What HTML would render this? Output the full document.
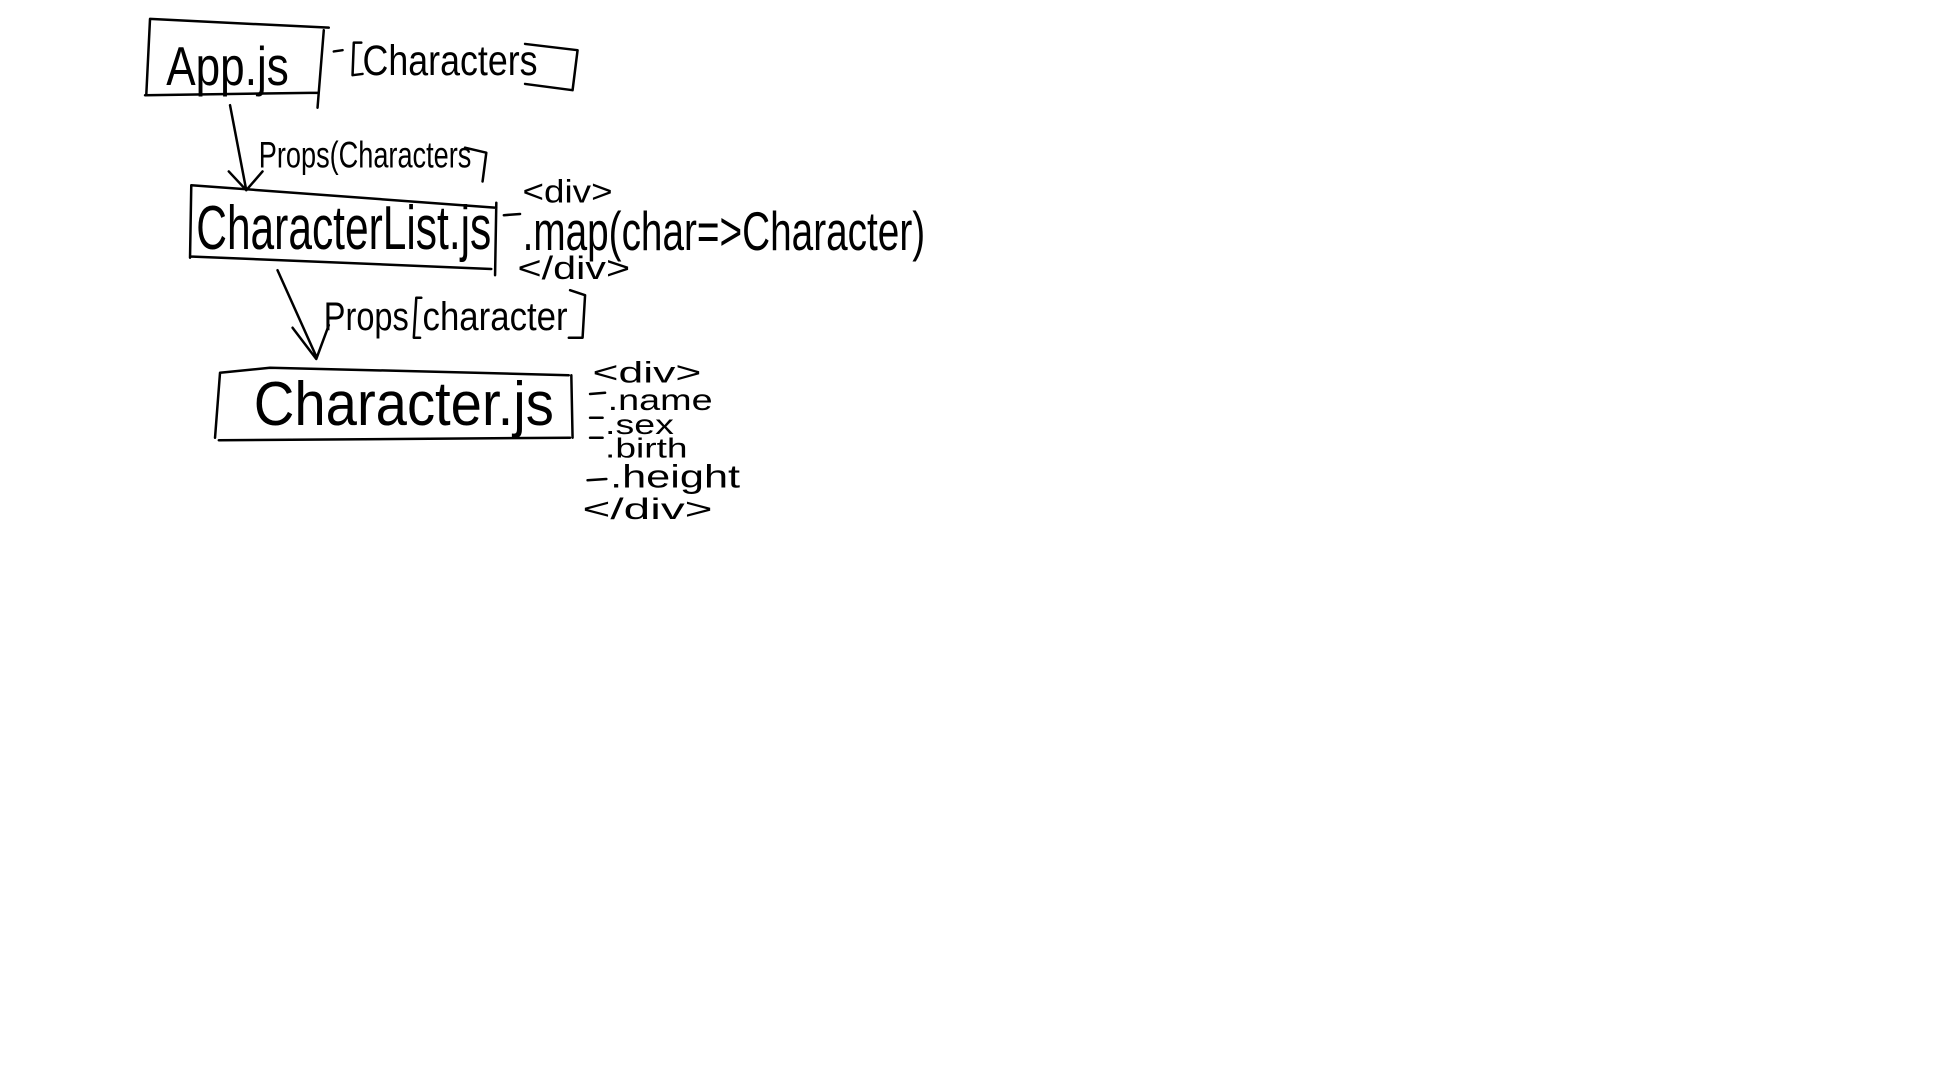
<!DOCTYPE html>
<html><head><meta charset="utf-8"><style>
html,body{margin:0;padding:0;background:#fff;width:1944px;height:1068px;overflow:hidden}
svg{display:block}
text{font-family:"Liberation Sans Narrow","Liberation Sans",sans-serif;fill:#000}
</style></head><body>
<svg width="1944" height="1068" viewBox="0 0 1555 854" xmlns="http://www.w3.org/2000/svg">
<g fill="none" stroke="#000" stroke-width="2" stroke-linecap="round" stroke-linejoin="round">
<path d="M120,15 L263,22 M259,24 L254,86 M116,76 L255,74 M120,15 L117,76"/>
<path d="M267,41 L274,40 M289,34 L283,34 L282,60 L290,59 M420,35 L462,40 L458,72 L420,67"/>
<path d="M184,84 L197,152 M183,137 L197,152 L210,137"/>
<path d="M372,118 L389,122 L386,145"/>
<path d="M153,148 L397,166 M397,162 L396,220 M152,205 L393,215 M153,148 L152,206"/>
<path d="M403,172 L416,171"/>
<path d="M222,216 L253,285 M234,262 L253,287 L263,260"/>
<path d="M456,232 L468,236 L466,270 L455,270 M337,238 L333,238 L331,270 L336,270"/>
<path d="M176,298 L216,294 L380,298 L455,300 M457,300 L458,350 M175,352 L456,350 M176,298 L172,350"/>
<path d="M472,315 L484,314 M472,334 L482,334 M472,350 L482,350 M470,384 L485,383"/>
</g>
<text x="133" y="68" font-size="44" textLength="98" lengthAdjust="spacingAndGlyphs">App.js</text>
<text x="290" y="60" font-size="34" textLength="140" lengthAdjust="spacingAndGlyphs">Characters</text>
<text x="207" y="134" font-size="30" textLength="170" lengthAdjust="spacingAndGlyphs">Props(Characters</text>
<text x="157" y="199" font-size="50" textLength="236" lengthAdjust="spacingAndGlyphs">CharacterList.js</text>
<text x="418" y="162" font-size="26" textLength="72" lengthAdjust="spacingAndGlyphs">&lt;div&gt;</text>
<text x="418" y="200" font-size="44" textLength="322" lengthAdjust="spacingAndGlyphs">.map(char=&gt;Character)</text>
<text x="414" y="223" font-size="26" textLength="90" lengthAdjust="spacingAndGlyphs">&lt;/div&gt;</text>
<text x="259" y="264" font-size="32" textLength="68" lengthAdjust="spacingAndGlyphs">Props</text>
<text x="338" y="264" font-size="32" textLength="116" lengthAdjust="spacingAndGlyphs">character</text>
<text x="203" y="340" font-size="50" textLength="240" lengthAdjust="spacingAndGlyphs">Character.js</text>
<text x="474" y="306" font-size="24" textLength="87" lengthAdjust="spacingAndGlyphs">&lt;div&gt;</text>
<text x="486" y="328" font-size="24" textLength="84" lengthAdjust="spacingAndGlyphs">.name</text>
<text x="484" y="347" font-size="22" textLength="55" lengthAdjust="spacingAndGlyphs">.sex</text>
<text x="484" y="366" font-size="22" textLength="66" lengthAdjust="spacingAndGlyphs">.birth</text>
<text x="488" y="390" font-size="26" textLength="104" lengthAdjust="spacingAndGlyphs">.height</text>
<text x="466" y="415" font-size="24" textLength="104" lengthAdjust="spacingAndGlyphs">&lt;/div&gt;</text>
</svg>
</body></html>
